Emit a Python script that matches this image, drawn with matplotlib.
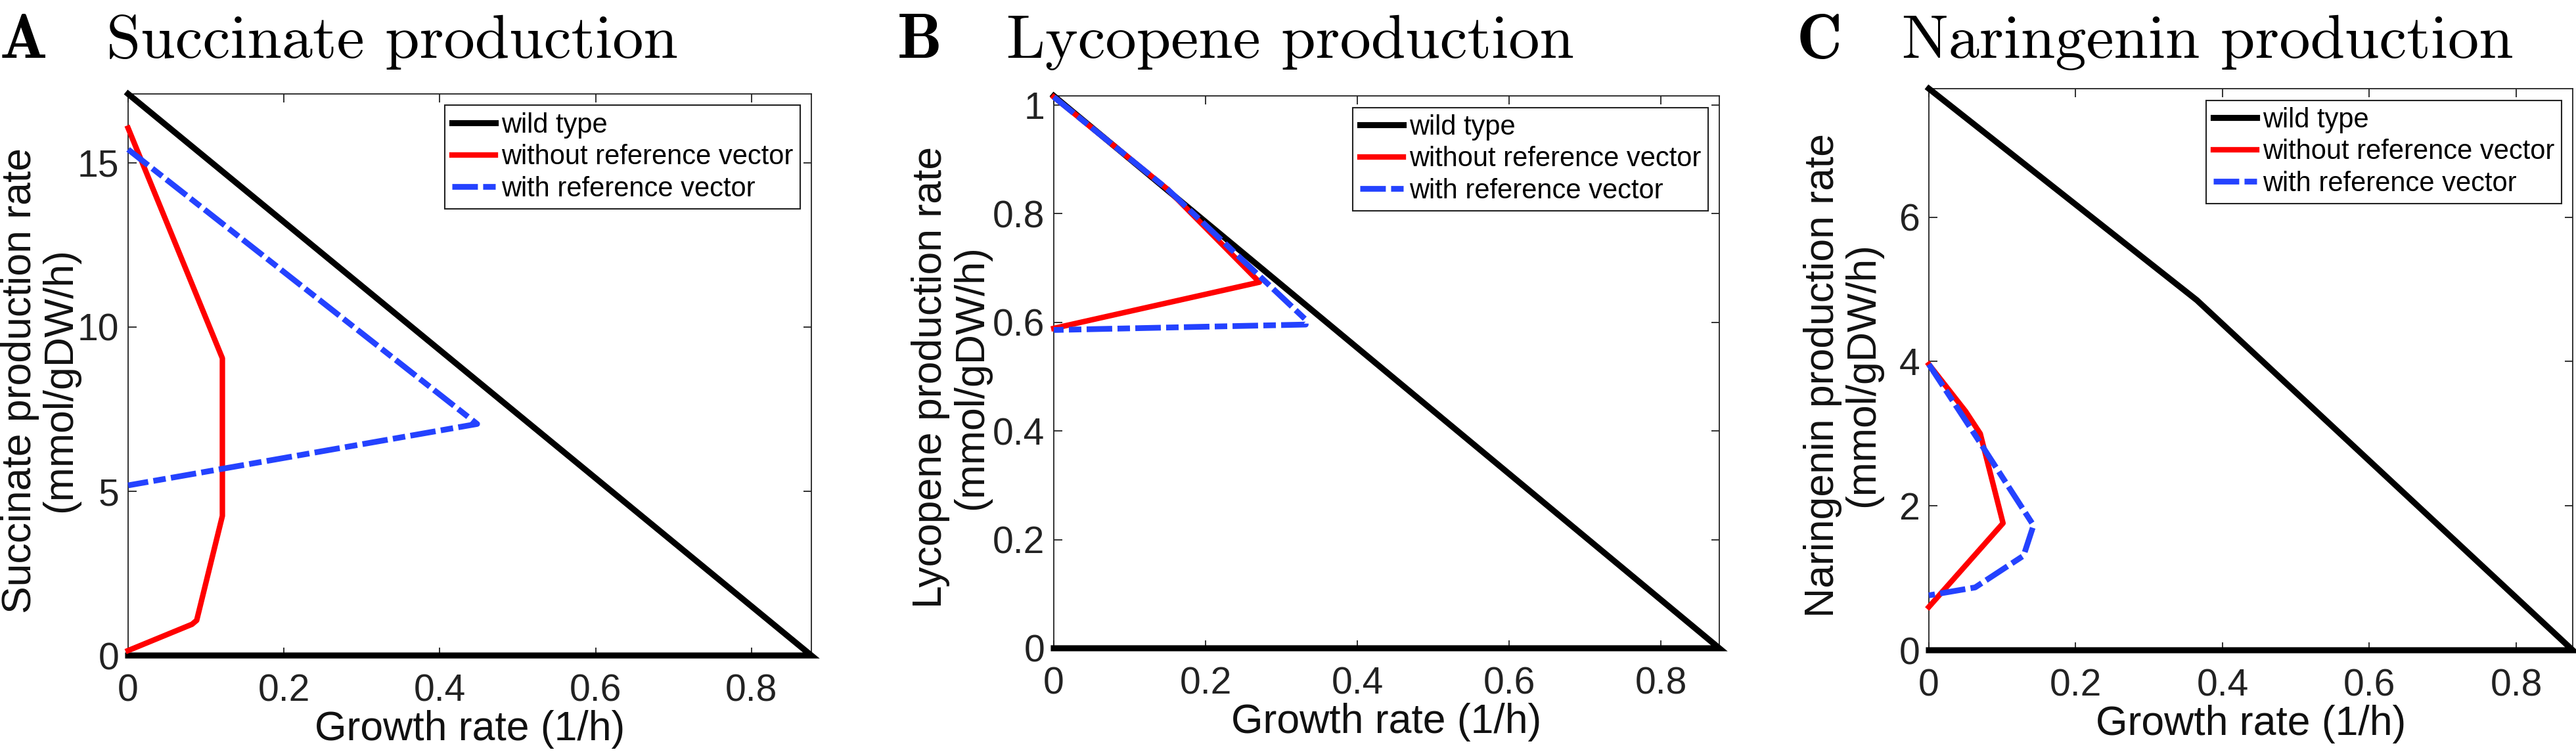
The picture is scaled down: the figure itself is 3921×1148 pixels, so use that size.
import matplotlib
matplotlib.use("Agg")
import matplotlib.pyplot as plt
from matplotlib.ticker import FuncFormatter, FixedLocator

plt.rcParams['font.family'] = ['Liberation Sans', 'DejaVu Sans']
plt.rcParams['lines.scale_dashes'] = False

# ---------------- data ----------------
growth_max = 0.877

# Panel A: succinate
wt_a_x = [0.0, growth_max, 0.0]
wt_a_y = [17.1, 0.0, 0.0]
red_a_x = [0.0, 0.121, 0.121, 0.088, 0.082, 0.0]
red_a_y = [16.06, 9.05, 4.25, 1.07, 0.95, 0.15]
blue_a_x = [0.0, 0.448, 0.0]
blue_a_y = [15.41, 7.05, 5.18]

# Panel B: lycopene
wt_b_x = [0.0, growth_max, 0.0]
wt_b_y = [1.017, 0.0, 0.0]
red_b_x = [0.0, 0.15, 0.271, 0.0]
red_b_y = [1.015, 0.845, 0.674, 0.589]
blue_b_x = [0.0, 0.15, 0.332, 0.332, 0.0]
blue_b_y = [1.015, 0.845, 0.605, 0.596, 0.586]

# Panel C: naringenin
wt_c_x = [0.0, 0.365, growth_max, 0.0]
wt_c_y = [7.78, 4.85, 0.0, 0.0]
red_c_x = [0.0, 0.05, 0.07, 0.101, 0.0]
red_c_y = [3.96, 3.31, 3.0, 1.76, 0.6]
blue_c_x = [0.0, 0.065, 0.1425, 0.129, 0.063, 0.0]
blue_c_y = [3.96, 2.95, 1.73, 1.31, 0.87, 0.76]

x_ticks = [0, 0.2, 0.4, 0.6, 0.8]
y_ticks_a = [0, 5, 10, 15]
y_ticks_b = [0, 0.2, 0.4, 0.6, 0.8, 1.0]
y_ticks_c = [0, 2, 4, 6]

letters = ['A', 'B', 'C']
titles = ['Succinate production', 'Lycopene production', 'Naringenin production']
ylabels = ['Succinate production rate\n(mmol/gDW/h)',
           'Lycopene production rate\n(mmol/gDW/h)',
           'Naringenin production rate\n(mmol/gDW/h)']
xlabel = 'Growth rate (1/h)'
legend_labels = ['wild type', 'without reference vector', 'with reference vector']

# ---------------- style ----------------
W, H = 3921, 1148
fig = plt.figure(figsize=(W / 100, H / 100), dpi=100)

# axes boxes in pixel coords: left, right, top, bottom
boxes = [(195, 1235, 143, 998), (1604, 2617, 146, 987), (2936, 3916, 135, 990)]
ylabel_x = [-0.071, -0.095, -0.072]
letter_x = [0, 1366, 2735]
title_x = [162, 1532, 2895]

BLUE = '#2442ff'
RED = '#ff0000'
LW = 6.0
blue_dashes = (28, 5.8, 13.7, 5.8)

panels = [
    (wt_a_x, wt_a_y, red_a_x, red_a_y, blue_a_x, blue_a_y, y_ticks_a, 17.1),
    (wt_b_x, wt_b_y, red_b_x, red_b_y, blue_b_x, blue_b_y, y_ticks_b, 1.017),
    (wt_c_x, wt_c_y, red_c_x, red_c_y, blue_c_x, blue_c_y, y_ticks_c, 7.78),
]

fmt = FuncFormatter(lambda v, p: ('%g' % round(v, 6)))

for i, (p, box) in enumerate(zip(panels, boxes)):
    wx, wy, rx, ry, bx, by, yt, ymax = p
    l, r, t, b = box
    ax = fig.add_axes([l / W, 1 - b / H, (r - l) / W, (b - t) / H])
    h1, = ax.plot(wx, wy, color='black', lw=LW + 0.6, clip_on=False,
                  solid_joinstyle='miter', zorder=3)
    h2, = ax.plot(rx, ry, color=RED, lw=LW, clip_on=False, zorder=4)
    h3, = ax.plot(bx, by, color=BLUE, lw=LW + 0.3, clip_on=False, zorder=5,
                  dash_capstyle='butt')
    h3.set_dashes(blue_dashes)
    ax.set_xlim(0, growth_max)
    ax.set_ylim(0, ymax)
    ax.xaxis.set_major_locator(FixedLocator(x_ticks))
    ax.yaxis.set_major_locator(FixedLocator(yt))
    ax.xaxis.set_major_formatter(fmt)
    ax.yaxis.set_major_formatter(fmt)
    ax.tick_params(direction='in', length=9, width=1.3, top=True, right=True,
                   labelsize=41, colors='#222222')
    ax.tick_params(axis='x', pad=20)
    ax.tick_params(axis='y', pad=10)
    for s in ax.spines.values():
        s.set_linewidth(1.3)
        s.set_color('#222222')
    ax.set_xlabel(xlabel, fontsize=45, labelpad=1, color='#111111')
    ax.set_ylabel(ylabels[i], fontsize=45, linespacing=1.05, color='#111111')
    ax.yaxis.set_label_coords(ylabel_x[i], 0.49)
    leg = ax.legend([h1, h2, h3], legend_labels, loc='upper right',
                    fontsize=30, frameon=True, fancybox=False, framealpha=1,
                    edgecolor='#222222', borderpad=0.25, labelspacing=0.2,
                    handlelength=1.6, handletextpad=0.2, borderaxespad=0.42)
    leg.get_frame().set_linewidth(1.5)

    fig.text(letter_x[i] / W, 1 - 88 / H, letters[i], family='cmb10',
             fontsize=69, va='baseline', ha='left')
    fig.text(title_x[i] / W, 1 - 88 / H, titles[i], family='cmr10',
             fontsize=68, va='baseline', ha='left')

fig.savefig('out.png', dpi=100, facecolor='white')
